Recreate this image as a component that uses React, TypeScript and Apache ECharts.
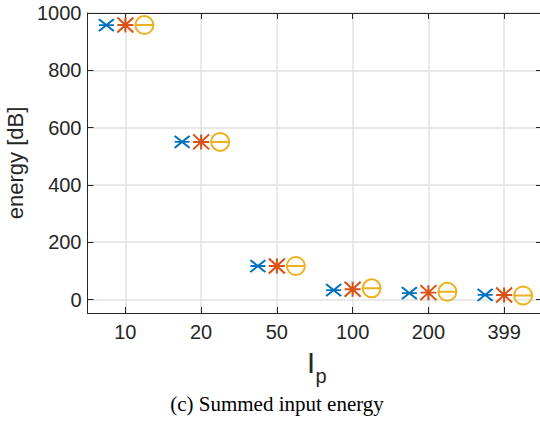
import React, { useEffect, useRef } from "react";
import * as echarts from "echarts";

const categories = ["10", "20", "50", "100", "200", "399"];
const seriesBlue = [958, 550, 117, 33, 22, 16];
const seriesOrange = [958, 550, 117, 36, 24, 16];
const seriesYellow = [958, 550, 117, 39, 27, 14];
const yTicks = [0, 200, 400, 600, 800, 1000];

const AX = "#262626";
const FONT = "Liberation Sans, Arial, Helvetica, sans-serif";

export default function App() {
  const ref = useRef<HTMLDivElement>(null);
  useEffect(() => {
    document.body.style.margin = "0";
    const chart = echarts.init(ref.current!, null, { renderer: "svg" });
    const yBase = {
      type: "value",
      min: -47,
      max: 1000,
      axisLine: { show: true, lineStyle: { color: AX, width: 1 } },
      axisTick: { show: true, inside: true, length: 6, customValues: yTicks, lineStyle: { color: AX } },
    };
    const xBase = {
      type: "category",
      data: categories,
      boundaryGap: true,
      axisLine: { show: true, onZero: false, lineStyle: { color: AX, width: 1 } },
      axisTick: { show: true, inside: true, length: 6, alignWithLabel: true, lineStyle: { color: AX } },
    };
    chart.setOption({
      animation: false,
      grid: {
        left: 87.5,
        top: 13,
        width: 454.5,
        height: 300,
        containLabel: false,
        outerBoundsMode: "none",
      },
      xAxis: [
        {
          ...xBase,
          position: "bottom",
          axisLabel: { show: true, color: AX, fontSize: 20, fontFamily: FONT, margin: 9 },
          splitLine: { show: true, alignWithLabel: true, lineStyle: { color: "#e2e2e2", width: 1.5 } },
        },
        {
          ...xBase,
          position: "top",
          axisLabel: { show: false },
          splitLine: { show: false },
        },
      ],
      yAxis: [
        {
          ...yBase,
          position: "left",
          axisLabel: {
            show: true,
            color: AX,
            fontSize: 20,
            fontFamily: FONT,
            margin: 6,
            customValues: yTicks,
            formatter: (v: number) => String(v),
          },
          splitLine: { show: true, lineStyle: { color: "#e2e2e2", width: 1.5 } },
          name: "energy [dB]",
          nameLocation: "middle",
          nameGap: 54,
          nameTextStyle: { color: AX, fontSize: 22, fontFamily: FONT },
        },
        {
          ...yBase,
          position: "right",
          axisLabel: { show: false },
          splitLine: { show: false },
        },
      ],
      graphic: [
        {
          type: "text",
          x: 307,
          y: 363,
          style: { text: "I", fontSize: 29, fontFamily: FONT, fill: AX, align: "left", verticalAlign: "middle" },
        },
        {
          type: "text",
          x: 315.5,
          y: 376,
          style: { text: "p", fontSize: 20, fontFamily: FONT, fill: AX, align: "left", verticalAlign: "middle" },
        },
        {
          type: "text",
          x: 277,
          y: 404,
          style: {
            text: "(c) Summed input energy",
            fontSize: 21,
            fontFamily: "Liberation Serif, Times New Roman, serif",
            fill: "#000",
            align: "center",
            verticalAlign: "middle",
          },
        },
      ],
      series: [
        {
          type: "scatter",
          data: seriesBlue,
          symbol: "path://M0,0L15,12M0,12L15,0M0,6L15,6",
          symbolSize: [15, 12],
          symbolOffset: [-19, 0],
          itemStyle: { color: "rgba(0,0,0,0)", borderColor: "#0072BD", borderWidth: 2, opacity: 1 },
          z: 3,
        },
        {
          type: "scatter",
          data: seriesOrange,
          symbol: "path://M0,0L16,15M0,15L16,0M0,7.5L16,7.5M8,0L8,15",
          symbolSize: [16, 15],
          itemStyle: { color: "rgba(0,0,0,0)", borderColor: "#D95319", borderWidth: 2, opacity: 1 },
          z: 3,
        },
        {
          type: "scatter",
          data: seriesYellow,
          symbol: "path://M0,9A9,9,0,1,1,18,9A9,9,0,1,1,0,9ZM0,9L18,9",
          symbolSize: [18, 18],
          symbolOffset: [19, 0],
          itemStyle: { color: "rgba(0,0,0,0)", borderColor: "#EDB120", borderWidth: 2, opacity: 1 },
          z: 3,
        },
      ],
    });
    return () => chart.dispose();
  }, []);
  return <div ref={ref} style={{ width: 540, height: 422 }} />;
}
